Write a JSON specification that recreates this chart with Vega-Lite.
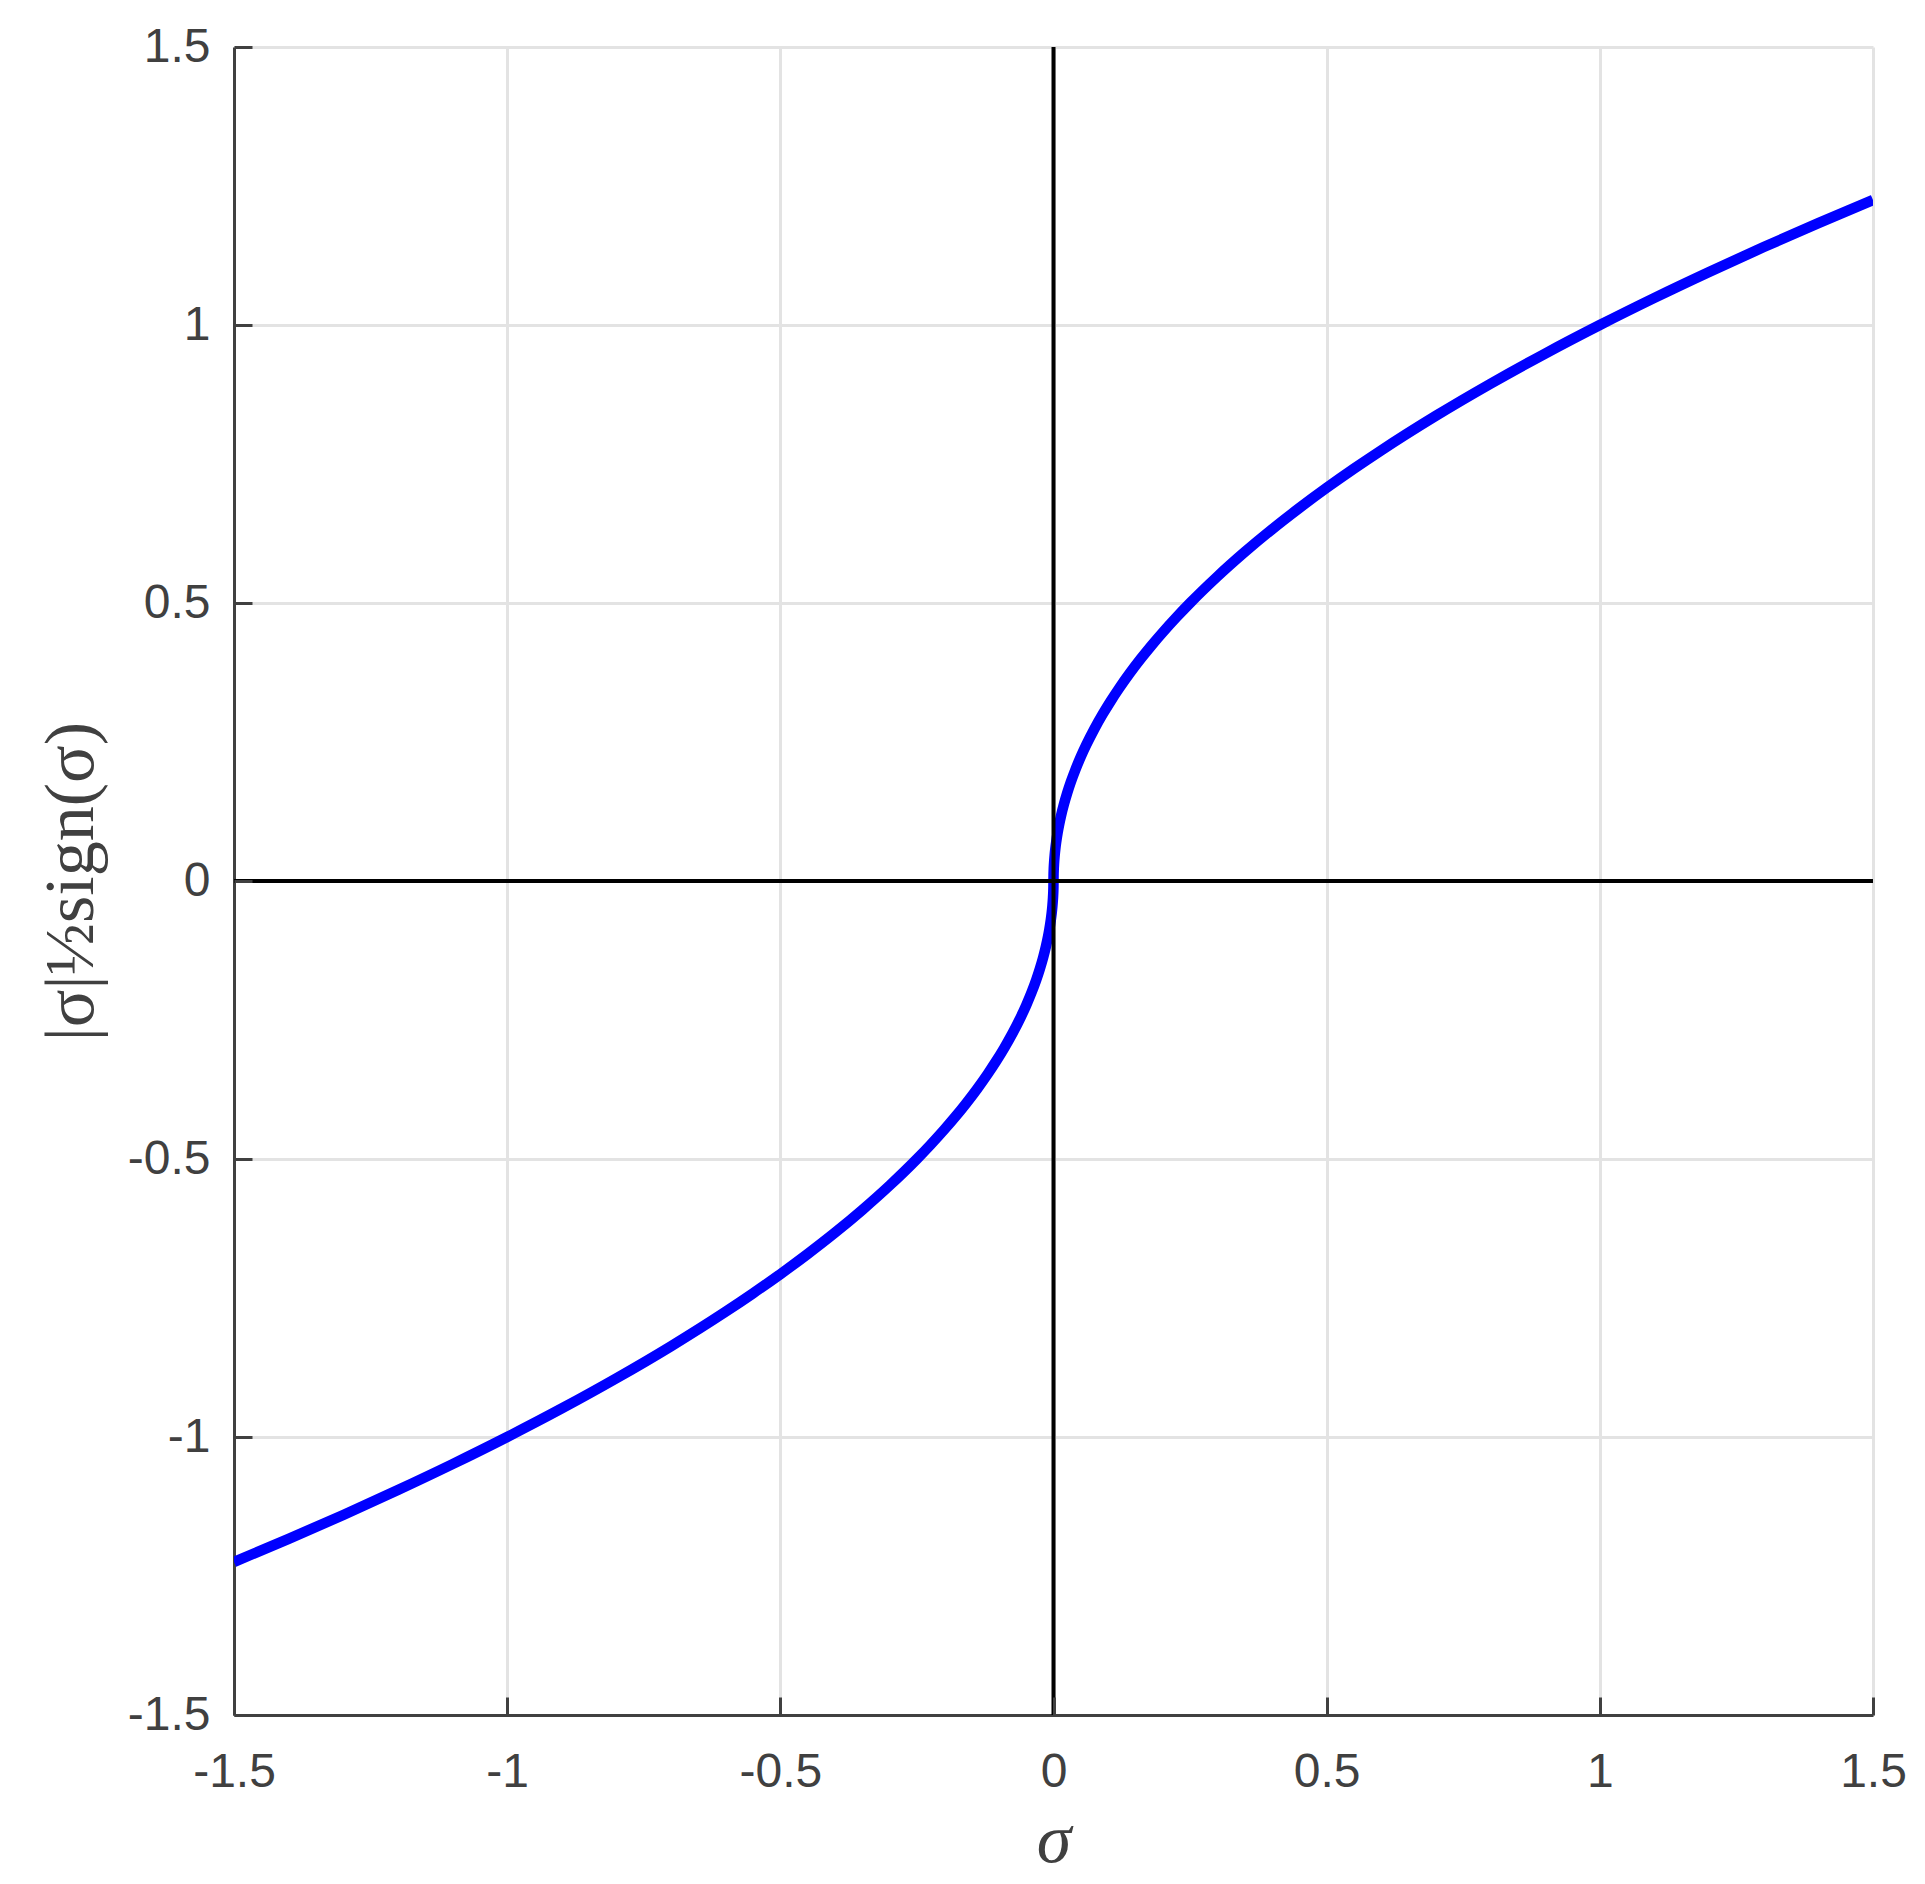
{
  "$schema": "https://vega.github.io/schema/vega-lite/v6.json",
  "autosize": "none",
  "width": 1639,
  "height": 1668,
  "padding": {"left": 234, "top": 47, "right": 52, "bottom": 169},
  "background": "white",
  "config": {
    "view": {"stroke": null},
    "axis": {
      "domainColor": "#404040",
      "domainWidth": 3,
      "tickColor": "#404040",
      "tickWidth": 3,
      "gridColor": "#e3e3e3",
      "gridWidth": 3,
      "labelFont": "Liberation Sans",
      "labelFontSize": 48,
      "labelColor": "#404040",
      "titleFont": "Liberation Serif",
      "titleFontSize": 70,
      "titleFontWeight": "normal",
      "titleColor": "#404040"
    }
  },
  "resolve": {"axis": {"x": "independent", "y": "independent"}},
  "layer": [
    {
      "data": {
        "values": [
          {"s": -1.5, "f": -1.2247},
          {"s": -1.4, "f": -1.1832},
          {"s": -1.3, "f": -1.1402},
          {"s": -1.2, "f": -1.0954},
          {"s": -1.1, "f": -1.0488},
          {"s": -1.0, "f": -1.0},
          {"s": -0.9, "f": -0.9487},
          {"s": -0.8, "f": -0.8944},
          {"s": -0.7, "f": -0.8367},
          {"s": -0.6, "f": -0.7746},
          {"s": -0.55, "f": -0.7416},
          {"s": -0.5, "f": -0.7071},
          {"s": -0.45, "f": -0.6708},
          {"s": -0.4, "f": -0.6325},
          {"s": -0.35, "f": -0.5916},
          {"s": -0.3, "f": -0.5477},
          {"s": -0.25, "f": -0.5},
          {"s": -0.225, "f": -0.4743},
          {"s": -0.2, "f": -0.4472},
          {"s": -0.18, "f": -0.4243},
          {"s": -0.16, "f": -0.4},
          {"s": -0.14, "f": -0.3742},
          {"s": -0.12, "f": -0.3464},
          {"s": -0.105, "f": -0.324},
          {"s": -0.09, "f": -0.3},
          {"s": -0.075, "f": -0.2739},
          {"s": -0.06, "f": -0.2449},
          {"s": -0.05, "f": -0.2236},
          {"s": -0.04, "f": -0.2},
          {"s": -0.032, "f": -0.1789},
          {"s": -0.025, "f": -0.1581},
          {"s": -0.019, "f": -0.1378},
          {"s": -0.014, "f": -0.1183},
          {"s": -0.01, "f": -0.1},
          {"s": -0.0075, "f": -0.0866},
          {"s": -0.005, "f": -0.0707},
          {"s": -0.0035, "f": -0.0592},
          {"s": -0.002, "f": -0.0447},
          {"s": -0.001, "f": -0.0316},
          {"s": -0.0004, "f": -0.02},
          {"s": -0.0001, "f": -0.01},
          {"s": 0, "f": 0},
          {"s": 0.0001, "f": 0.01},
          {"s": 0.0004, "f": 0.02},
          {"s": 0.001, "f": 0.0316},
          {"s": 0.002, "f": 0.0447},
          {"s": 0.0035, "f": 0.0592},
          {"s": 0.005, "f": 0.0707},
          {"s": 0.0075, "f": 0.0866},
          {"s": 0.01, "f": 0.1},
          {"s": 0.014, "f": 0.1183},
          {"s": 0.019, "f": 0.1378},
          {"s": 0.025, "f": 0.1581},
          {"s": 0.032, "f": 0.1789},
          {"s": 0.04, "f": 0.2},
          {"s": 0.05, "f": 0.2236},
          {"s": 0.06, "f": 0.2449},
          {"s": 0.075, "f": 0.2739},
          {"s": 0.09, "f": 0.3},
          {"s": 0.105, "f": 0.324},
          {"s": 0.12, "f": 0.3464},
          {"s": 0.14, "f": 0.3742},
          {"s": 0.16, "f": 0.4},
          {"s": 0.18, "f": 0.4243},
          {"s": 0.2, "f": 0.4472},
          {"s": 0.225, "f": 0.4743},
          {"s": 0.25, "f": 0.5},
          {"s": 0.3, "f": 0.5477},
          {"s": 0.35, "f": 0.5916},
          {"s": 0.4, "f": 0.6325},
          {"s": 0.45, "f": 0.6708},
          {"s": 0.5, "f": 0.7071},
          {"s": 0.55, "f": 0.7416},
          {"s": 0.6, "f": 0.7746},
          {"s": 0.7, "f": 0.8367},
          {"s": 0.8, "f": 0.8944},
          {"s": 0.9, "f": 0.9487},
          {"s": 1.0, "f": 1.0},
          {"s": 1.1, "f": 1.0488},
          {"s": 1.2, "f": 1.0954},
          {"s": 1.3, "f": 1.1402},
          {"s": 1.4, "f": 1.1832},
          {"s": 1.5, "f": 1.2247}
        ]
      },
      "mark": {"type": "line", "color": "#0000ff", "strokeWidth": 10.5, "strokeCap": "butt", "strokeJoin": "round", "interpolate": "monotone", "clip": true},
      "encoding": {
        "x": {
          "field": "s", "type": "quantitative",
          "scale": {"domain": [-1.5, 1.5], "nice": false, "zero": false},
          "axis": {
            "orient": "bottom",
            "title": "σ",
            "titleFontStyle": "italic",
            "titlePadding": 10,
            "values": [-1.5, -1, -0.5, 0, 0.5, 1, 1.5],
            "labelExpr": "'' + datum.value",
            "ticks": false,
            "labelPadding": 33,
            "labelFlush": false
          }
        },
        "y": {
          "field": "f", "type": "quantitative",
          "scale": {"domain": [-1.5, 1.5], "nice": false, "zero": false},
          "axis": {
            "orient": "left",
            "title": "|σ|½sign(σ)",
            "titlePadding": 20,
            "values": [-1.5, -1, -0.5, 0, 0.5, 1, 1.5],
            "labelExpr": "'' + datum.value",
            "ticks": false,
            "labelPadding": 24,
            "labelFlush": false
          }
        }
      }
    },
    {
      "data": {"values": [{"z": 0}]},
      "mark": {"type": "rule", "color": "#000000", "strokeWidth": 4},
      "encoding": {
        "x": {
          "field": "z", "type": "quantitative",
          "axis": {
            "orient": "bottom",
            "title": null,
            "values": [-1.5, -1, -0.5, 0, 0.5, 1, 1.5],
            "offset": -18,
            "tickSize": 18,
            "labels": false,
            "domain": false,
            "grid": false,
            "zindex": 1
          }
        }
      }
    },
    {
      "data": {"values": [{"z": 0}]},
      "mark": {"type": "rule", "color": "#000000", "strokeWidth": 4},
      "encoding": {
        "y": {
          "field": "z", "type": "quantitative",
          "axis": {
            "orient": "left",
            "title": null,
            "values": [-1.5, -1, -0.5, 0, 0.5, 1, 1.5],
            "offset": -18,
            "tickSize": 18,
            "labels": false,
            "domain": false,
            "grid": false,
            "zindex": 1
          }
        }
      }
    }
  ]
}
